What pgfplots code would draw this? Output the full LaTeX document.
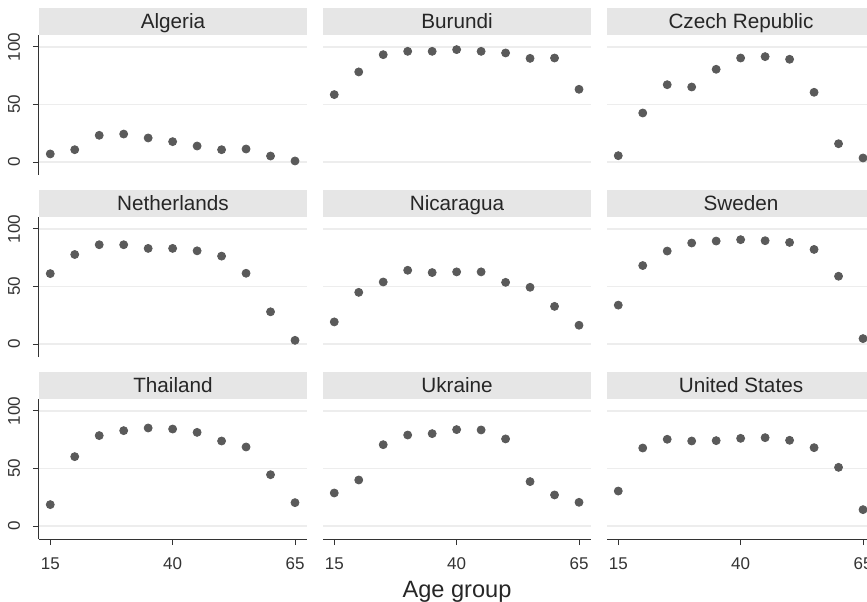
\documentclass[border=0pt]{standalone}
\usepackage{fontspec}
\setmainfont{Liberation Sans}
\usepackage{pgfplots}
\usepackage{pgfplotstable}
\pgfplotsset{compat=1.18}
\definecolor{hdr}{HTML}{E6E6E6}
\definecolor{gridc}{HTML}{EDEDED}
\definecolor{mk}{HTML}{5A5A5A}
\definecolor{axc}{HTML}{333333}

\pgfplotstableread{
age Algeria Burundi Czech Netherlands Nicaragua Sweden Thailand Ukraine US
15 7.0 58.6 5.5 61.2 19.2 33.8 18.6 28.7 30.4
20 10.7 78.3 42.6 77.8 44.9 68.2 60.3 40.0 67.8
25 23.2 93.3 67.2 86.3 53.9 80.8 78.6 70.7 75.4
30 24.3 96.2 65.2 86.3 64.1 87.8 82.9 79.1 73.9
35 20.9 96.2 80.6 83.1 62.1 89.5 85.2 80.3 74.2
40 17.7 97.7 90.4 83.1 62.7 90.7 84.3 83.8 76.2
45 13.9 96.2 91.6 81.0 62.7 89.8 81.4 83.5 76.8
50 10.7 94.8 89.3 76.4 53.6 88.3 73.9 75.7 74.5
55 11.3 90.1 60.6 61.5 49.3 82.2 68.7 38.6 68.1
60 5.2 90.4 15.9 28.0 32.7 58.9 44.6 27.0 51.0
65 0.9 63.2 3.5 3.2 16.3 4.7 20.3 20.6 14.2
}\data

\pgfplotsset{
 panel/.style={
  scale only axis, width=134pt, height=70pt, anchor=south west,
  xmin=12.7, xmax=67.45, ymin=-11.3, ymax=110.4,
  xtick={15,40,65}, ytick={0,50,100},
  ymajorgrids, grid style={draw=gridc, line width=0.7pt},
  axis x line*=bottom, axis y line*=left,
  x axis line style={draw=none}, y axis line style={draw=none},
  xtick style={draw=none}, ytick style={draw=none},
  xticklabels={}, yticklabels={},
  tick align=outside, major tick length=3pt,
  ticklabel style={font=\fontsize{8.5}{10}\selectfont, text=axc},
  /pgf/number format/assume math mode=true,
  clip=false,
  every axis title/.style={fill=hdr, minimum width=134pt, minimum height=13.5pt, inner sep=0pt,
    text height=7.4pt, text depth=0pt, anchor=south, at={(0.5,1)},
    font=\fontsize{10.35}{12}\selectfont, text=black!85},
 },
 leftcol/.style={
  y axis line style={draw=axc, line width=0.5pt},
  ytick style={draw=axc, line width=0.5pt},
  yticklabels={0,50,100},
  yticklabel style={rotate=90, anchor=south},
  yticklabel shift=3pt,
 },
 bottomrow/.style={
  x axis line style={draw=axc, line width=0.5pt},
  xtick style={draw=axc, line width=0.5pt},
  xticklabels={15,40,65},
  xticklabel shift=3pt,
 },
 dots/.style={only marks, mark=*, mark size=2pt, color=mk, mark options={draw=mk, fill=mk}},
}

\begin{document}
\begin{tikzpicture}
% row 1
\begin{axis}[panel, leftcol, at={(19.5pt,213pt)}, title={Algeria}]
\addplot[dots] table[x=age,y=Algeria]{\data};
\end{axis}
\begin{axis}[panel, at={(161.5pt,213pt)}, title={Burundi}]
\addplot[dots] table[x=age,y=Burundi]{\data};
\end{axis}
\begin{axis}[panel, at={(303.5pt,213pt)}, title={Czech Republic}]
\addplot[dots] table[x=age,y=Czech]{\data};
\end{axis}
% row 2
\begin{axis}[panel, leftcol, at={(19.5pt,122pt)}, title={Netherlands}]
\addplot[dots] table[x=age,y=Netherlands]{\data};
\end{axis}
\begin{axis}[panel, at={(161.5pt,122pt)}, title={Nicaragua}]
\addplot[dots] table[x=age,y=Nicaragua]{\data};
\end{axis}
\begin{axis}[panel, at={(303.5pt,122pt)}, title={Sweden}]
\addplot[dots] table[x=age,y=Sweden]{\data};
\end{axis}
% row 3
\begin{axis}[panel, leftcol, bottomrow, at={(19.5pt,31pt)}, title={Thailand}]
\addplot[dots] table[x=age,y=Thailand]{\data};
\end{axis}
\begin{axis}[panel, bottomrow, at={(161.5pt,31pt)}, title={Ukraine}]
\addplot[dots] table[x=age,y=Ukraine]{\data};
\end{axis}
\begin{axis}[panel, bottomrow, at={(303.5pt,31pt)}, title={United States}]
\addplot[dots] table[x=age,y=US]{\data};
\end{axis}
\node[anchor=base, font=\fontsize{11.8}{14}\selectfont, text=black!85, inner sep=0pt] at (228.5pt,2pt) {Age group};
\pgfresetboundingbox
\path[use as bounding box] (0,0) rectangle (433.5pt,300.5pt);
\end{tikzpicture}
\end{document}
